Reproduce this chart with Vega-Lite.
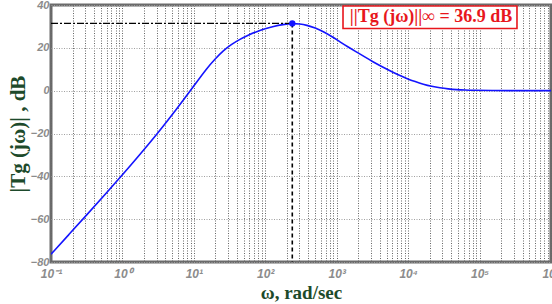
{
  "$schema": "https://vega.github.io/schema/vega-lite/v6.json",
  "width": 500,
  "height": 257,
  "autosize": {"type": "none"},
  "padding": {"left": 51, "top": 5, "right": 1, "bottom": 42},
  "background": "white",
  "config": {
    "view": {"stroke": "#6b6b6b", "strokeWidth": 3},
    "axis": {"labelFont": "Liberation Sans", "labelFontStyle": "italic", "labelFontWeight": "bold", "labelColor": "#8c8c8c", "labelFontSize": 11, "ticks": false, "domain": false, "titleFont": "Liberation Serif", "titleFontWeight": "bold", "titleColor": "#1d4a2b"}
  },
  "datasets": {
    "curve": [
      {"w": 0.1, "db": -76.4},
      {"w": 0.1778, "db": -67.2},
      {"w": 0.3162, "db": -58.0},
      {"w": 0.5623, "db": -48.7},
      {"w": 1, "db": -39.3},
      {"w": 1.778, "db": -29.6},
      {"w": 3.162, "db": -19.6},
      {"w": 5.623, "db": -9.0},
      {"w": 10, "db": 2.2},
      {"w": 15.14, "db": 10.4},
      {"w": 19.95, "db": 14.9},
      {"w": 25.82, "db": 18.7},
      {"w": 33.88, "db": 21.7},
      {"w": 44.26, "db": 24.0},
      {"w": 57.54, "db": 25.9},
      {"w": 75.86, "db": 27.6},
      {"w": 100, "db": 28.9},
      {"w": 129.4, "db": 30.0},
      {"w": 177.8, "db": 30.9},
      {"w": 238.8, "db": 31.4},
      {"w": 302, "db": 31.2},
      {"w": 380.2, "db": 30.6},
      {"w": 501.2, "db": 29.3},
      {"w": 648.6, "db": 27.6},
      {"w": 851.1, "db": 25.3},
      {"w": 1112, "db": 22.8},
      {"w": 1445, "db": 20.4},
      {"w": 1905, "db": 18.0},
      {"w": 2512, "db": 15.6},
      {"w": 3251, "db": 13.4},
      {"w": 4266, "db": 11.3},
      {"w": 5572, "db": 9.3},
      {"w": 7244, "db": 7.4},
      {"w": 9550, "db": 5.7},
      {"w": 12590, "db": 4.2},
      {"w": 16290, "db": 3.0},
      {"w": 21380, "db": 2.0},
      {"w": 27930, "db": 1.3},
      {"w": 36310, "db": 0.8},
      {"w": 47860, "db": 0.45},
      {"w": 63100, "db": 0.27},
      {"w": 81660, "db": 0.16},
      {"w": 140000, "db": 0.06},
      {"w": 368000, "db": 0.01},
      {"w": 1000000, "db": 0}
    ],
    "peak": [{"w": 238.8, "db": 31.4}]
  },
  "encoding": {
    "x": {
      "field": "w", "type": "quantitative",
      "scale": {"type": "log", "domain": [0.1, 1000000], "nice": false},
      "axis": {
        "title": "ω, rad/sec", "titleFontSize": 19, "titlePadding": 4,
        "values": [0.1,0.2,0.3,0.4,0.5,0.6,0.7,0.8,0.9,1,2,3,4,5,6,7,8,9,10,20,30,40,50,60,70,80,90,100,200,300,400,500,600,700,800,900,1000,2000,3000,4000,5000,6000,7000,8000,9000,10000,20000,30000,40000,50000,60000,70000,80000,90000,100000,200000,300000,400000,500000,600000,700000,800000,900000,1000000],
        "labelExpr": "datum.value==0.1?'10⁻¹':datum.value==1?'10⁰':datum.value==10?'10¹':datum.value==100?'10²':datum.value==1000?'10³':datum.value==10000?'10⁴':datum.value==100000?'10⁵':datum.value==1000000?'10⁶':''",
        "labelOverlap": false, "labelFlush": false, "labelPadding": 6, "labelFontSize": 12,
        "grid": true, "gridColor": "#666666", "gridDash": [1, 1.5], "gridWidth": 1
      }
    },
    "y": {
      "field": "db", "type": "quantitative",
      "scale": {"domain": [-80, 40], "nice": false},
      "axis": {
        "title": "|Tg (jω)| , dB", "titleFontSize": 21, "titlePadding": 2,
        "values": [-80, -60, -40, -20, 0, 20, 40],
        "labelPadding": 2, "labelFlush": false,
        "grid": true, "gridColor": "#a0a0a0", "gridDash": [1, 1.5], "gridWidth": 1.2
      }
    }
  },
  "layer": [
    {
      "data": {"name": "curve"},
      "mark": {"type": "line", "color": "#1414ff", "strokeWidth": 1.6, "interpolate": "basis", "clip": true}
    },
    {
      "data": {"name": "peak"},
      "mark": {"type": "rule", "color": "black", "strokeWidth": 1.4, "strokeDash": [7, 2, 2, 2]},
      "encoding": {
        "x": {"datum": 0.1, "type": "quantitative"},
        "x2": {"field": "w"}
      }
    },
    {
      "data": {"name": "peak"},
      "mark": {"type": "rule", "color": "black", "strokeWidth": 1.6, "strokeDash": [4, 3]},
      "encoding": {
        "y2": {"datum": -80}
      }
    },
    {
      "data": {"name": "peak"},
      "mark": {"type": "point", "filled": true, "opacity": 1, "color": "#1414ff", "size": 40}
    },
    {
      "data": {"name": "peak"},
      "mark": {"type": "rect", "fill": "white", "stroke": "#e8161c", "strokeWidth": 1.6},
      "encoding": {
        "x": {"datum": 1225, "type": "quantitative"},
        "x2": {"datum": 334000},
        "y": {"datum": 39.5, "type": "quantitative"},
        "y2": {"datum": 29.0}
      }
    },
    {
      "data": {"name": "peak"},
      "mark": {"type": "text", "text": "||Tg (jω)||∞ = 36.9 dB", "color": "#e8161c", "font": "Liberation Serif", "fontWeight": "bold", "fontSize": 18, "align": "center", "baseline": "middle"},
      "encoding": {
        "x": {"datum": 20900, "type": "quantitative"},
        "y": {"datum": 34.3, "type": "quantitative"}
      }
    }
  ]
}
